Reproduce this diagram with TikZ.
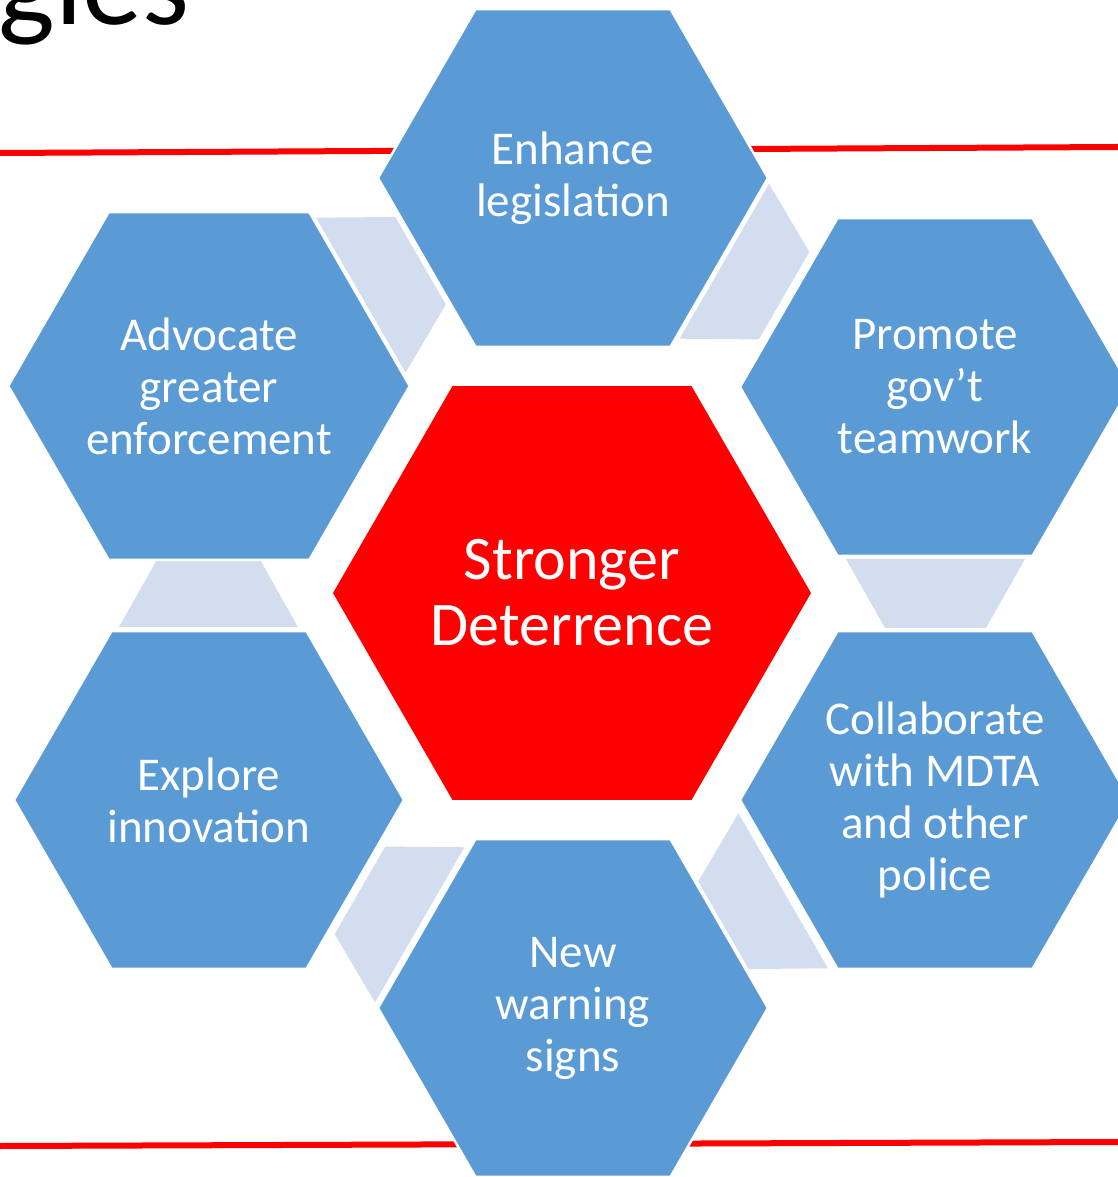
\documentclass[tikz,border=0pt]{standalone}
\usepackage{fontspec}
\setmainfont{Carlito}
\usepackage{xcolor}
\usetikzlibrary{shapes.geometric}
\definecolor{hexblue}{RGB}{91,155,213}
\definecolor{linkgrey}{RGB}{210,222,239}
\definecolor{deepred}{RGB}{255,0,0}

\begin{document}
\begin{tikzpicture}[x=0.5pt,y=0.5pt,
  hexa/.style={regular polygon,regular polygon sides=6,minimum size=195pt,inner sep=0pt,
    fill=hexblue,draw=white,line width=1.2pt,text=white,align=center,
    font=\fontsize{23.5}{26}\selectfont},
  link/.style={fill=linkgrey},
  rule/.style={deepred,line width=3pt}]
\useasboundingbox (-572,-584) rectangle (546,593);
\clip (-572,-584) rectangle (546,593);
\node[anchor=base east,inner sep=0pt,font=\fontsize{60}{60}\selectfont] (title) at (-382,568) {gies};
\draw[rule] (-572,440) -- (546,446);
\draw[rule] (-572,-553) -- (546,-549);
\foreach \a in {0,60,...,300}
  \fill[link,rotate=\a] (274,34) -- (453,34) -- (414,-35) -- (313,-35) -- cycle;
\node[hexa,minimum size=239pt,fill=deepred,draw=none,font=\fontsize{31}{33}\selectfont] (centre) at (0,0) {Stronger\\Deterrence};
\node[hexa] (enhance) at (1,415) {Enhance\\legislation};
\node[hexa] (advocate) at (-363,207) {Advocate\\greater\\enforcement};
\node[hexa] (promote) at (363,206) {Promote\\gov’t\\teamwork};
\node[hexa] (explore) at (-363,-207) {Explore\\innovation};
\node[hexa] (collab) at (363,-207) {Collaborate\\with MDTA\\and other\\police};
\node[hexa] (signs) at (1,-415) {New\\warning\\signs};
\end{tikzpicture}
\end{document}
